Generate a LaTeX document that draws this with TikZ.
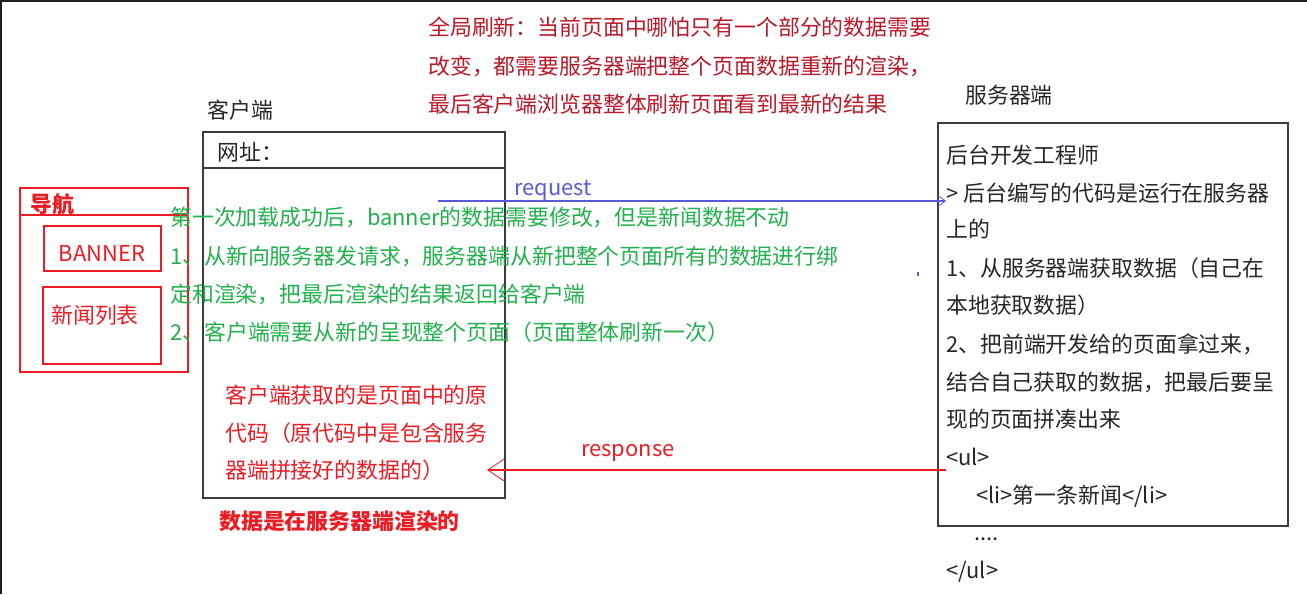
\documentclass[tikz,border=0pt]{standalone}
\usepackage{fontspec}
\setmainfont{Noto Sans CJK SC}
\usetikzlibrary{arrows.meta,fit}
\definecolor{cred}{RGB}{237,28,36}
\definecolor{cdark}{RGB}{185,25,40}
\definecolor{cgreen}{RGB}{34,177,76}
\definecolor{cblue}{RGB}{90,90,215}
\definecolor{cgray}{RGB}{60,60,60}
\definecolor{cedge}{RGB}{30,30,30}
\begin{document}
\begin{tikzpicture}[x=0.75pt,y=-0.75pt,
  txt/.style={inner sep=0pt, anchor=base west, font=\fontsize{16.4}{19}\selectfont},
  boldtxt/.style={txt, font=\fontsize{16.4}{19}\selectfont\bfseries},
  redbox/.style={draw=cred, line width=0.9pt, inner sep=0pt},
  graybox/.style={draw=cgray, line width=1.3pt, inner sep=0pt},
  reqline/.style={draw=cblue, line width=0.8pt, -{Straight Barb[length=6pt,width=9pt,line width=0.6pt]}},
  respline/.style={draw=cred, line width=0.8pt, -{Straight Barb[length=12pt,width=16pt,line width=0.6pt]}}]
\useasboundingbox (0,0) rectangle (1307,594);
\fill[white] (0,0) rectangle (1307,594);
\fill[cedge] (0,0) rectangle (1307,2);
\fill[cedge] (0,0) rectangle (2,594);

% top explanation
\node[txt, text=cdark] (top1) at (428,35) {全局刷新：当前页面中哪怕只有一个部分的数据需要};
\node[txt, text=cdark] (top2) at (428,74) {改变，都需要服务器端把整个页面数据重新的渲染，};
\node[txt, text=cdark] (top3) at (428,112) {最后客户端浏览器整体刷新页面看到最新的结果};

% navigation sketch
\node[redbox, fit={(20,188) (188,372)}] (nav) {};
\draw[cred, line width=0.9pt] (nav.west |- 0,215) -- (nav.east |- 0,215);
\node[boldtxt, text=cred] (navt) at (30,212) {导航};
\node[redbox, fit={(44,226) (161,271)}] (banner) {};
\node[txt, anchor=base, text=cred] (bannert) at (102,261) {BANNER};
\node[redbox, fit={(43,287) (161,364)}] (news) {};
\node[txt, text=cred] (newst) at (51,323) {新闻列表};

% client
\node[txt, text=black!85] (clientl) at (207,118) {客户端};
\node[graybox, fit={(203,132) (505,498)}] (client) {};
\draw[cgray, line width=1.3pt] (client.west |- 0,168) -- (client.east |- 0,168);
\node[txt, text=black!85] (url) at (217,160) {网址：};

% server
\node[txt, text=black!85] (serverl) at (965,103) {服务器端};
\node[graybox, line width=1.1pt, fit={(938,123) (1288,526)}] (server) {};
\node[txt, text=black!85] (s1) at (946,163) {后台开发工程师};
\node[txt, text=black!85] (s2) at (946,201) {> 后台编写的代码是运行在服务器};
\node[txt, text=black!85] (s3) at (946,237) {上的};
\node[txt, text=black!85] (s4) at (946,276) {1、从服务器端获取数据（自己在};
\node[txt, text=black!85] (s5) at (946,313) {本地获取数据）};
\node[txt, text=black!85] (s6) at (946,352) {2、把前端开发给的页面拿过来，};
\node[txt, text=black!85] (s7) at (946,390) {结合自己获取的数据，把最后要呈};
\node[txt, text=black!85] (s8) at (946,427) {现的页面拼凑出来};
\node[txt, text=black!85] (s9) at (946,465) {<ul>};
\node[txt, text=black!85] (s10) at (976,503) {<li>第一条新闻</li>};
\node[txt, text=black!85] (s11) at (974,540) {....};
\node[txt, text=black!85] (s12) at (946,578) {</ul>};

% request / response
\coordinate (reqs) at (438,201);
\coordinate (reqe) at (946,201);
\draw[reqline] (reqs) -- (reqe);
\node[txt, text=cblue] (reql) at (514,195) {request};
\fill[cblue] (917,272) rectangle (919,276);

\coordinate (resps) at (946,470);
\coordinate (respe) at (487,470);
\draw[respline] (resps) -- (respe);
\node[txt, text=cred] (respl) at (581,456) {response};

% green notes
\node[txt, text=cgreen] (g1) at (170,225) {第一次加载成功后，banner的数据需要修改，但是新闻数据不动};
\node[txt, text=cgreen] (g2) at (170,264) {1、从新向服务器发请求，服务器端从新把整个页面所有的数据进行绑};
\node[txt, text=cgreen] (g3) at (170,302) {定和渲染，把最后渲染的结果返回给客户端};
\node[txt, text=cgreen] (g4) at (170,340) {2、客户端需要从新的呈现整个页面（页面整体刷新一次）};

% red notes in client
\node[txt, text=cred] (r1) at (225,403) {客户端获取的是页面中的原};
\node[txt, text=cred] (r2) at (225,441) {代码（原代码中是包含服务};
\node[txt, text=cred] (r3) at (225,478) {器端拼接好的数据的）};
\node[boldtxt, text=cred] (rb) at (219,529) {数据是在服务器端渲染的};
\end{tikzpicture}
\end{document}
